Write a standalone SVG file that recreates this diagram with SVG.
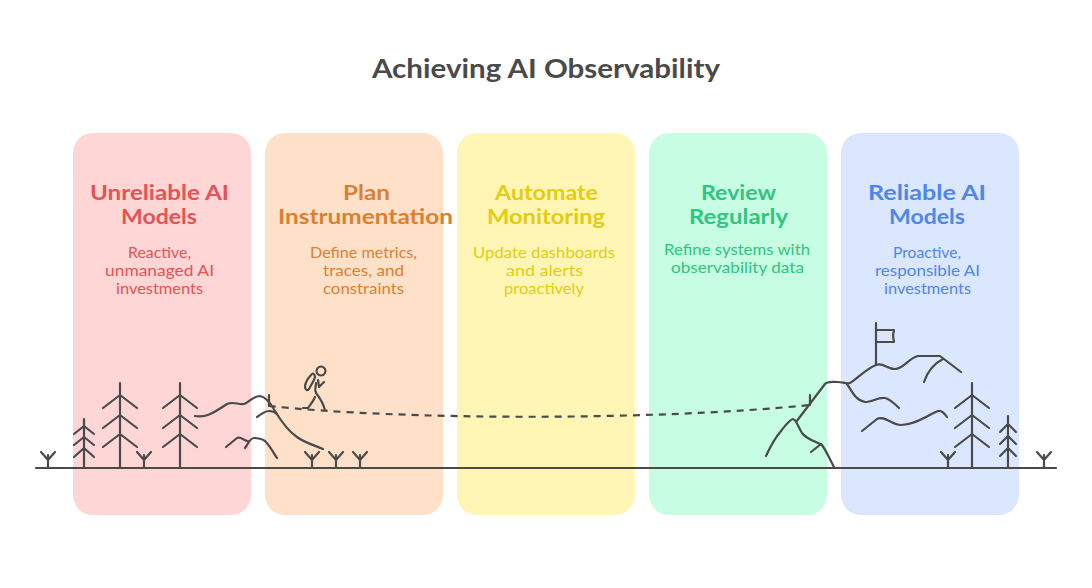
<svg xmlns="http://www.w3.org/2000/svg" width="1092" height="588" viewBox="0 0 1092 588">
<style>
text{font-family:"Lato","Noto Sans",sans-serif}
.t{font-size:27px;font-weight:700;fill:#4a4a4a}
.h{font-size:20px;font-weight:700}
.s{font-size:15px}
.k{fill:none;stroke:#4a4a4a;stroke-width:2.2;stroke-linecap:round;stroke-linejoin:round}
</style>
<defs>
<g id="big" class="k"><path d="M0 0V85M-17 25L0 12L17 25M-17 45L0 32L17 45M-17 64L0 51L17 64"/></g>
<g id="small" class="k"><path d="M0 0V49M-10 15L0 7L10 15M-10 26L0 18L10 26M-10 38L0 29L10 38"/></g>
<g id="small2" class="k"><path d="M0 0V52M-8 16L0 8L8 16M-8 28L0 20L8 28M-8 40L0 32L8 40"/></g>
<g id="grass" class="k"><path d="M0 0V-13M-7 -16L0 -8L7 -16"/></g>
</defs>
<rect width="1092" height="588" fill="#fff"/>
<text class="t" x="372" y="78" textLength="348" lengthAdjust="spacingAndGlyphs">Achieving AI Observability</text>
<g id="node-unreliable"><rect x="73" y="133" width="178" height="382" rx="20" fill="#ffd6d6"/>
<g class="h" fill="#e35454"><text x="90" y="200" textLength="139" lengthAdjust="spacingAndGlyphs">Unreliable AI</text><text x="121" y="224" textLength="76" lengthAdjust="spacingAndGlyphs">Models</text></g>
<g class="s" fill="#e35454"><text x="128" y="258" textLength="63" lengthAdjust="spacingAndGlyphs">Reactive,</text><text x="105" y="276" textLength="109" lengthAdjust="spacingAndGlyphs">unmanaged AI</text><text x="116" y="294" textLength="87" lengthAdjust="spacingAndGlyphs">investments</text></g></g>
<g id="node-plan"><rect x="265" y="133" width="178" height="382" rx="20" fill="#ffe1ca"/>
<g class="h" fill="#dd7f30"><text x="343" y="200" textLength="47" lengthAdjust="spacingAndGlyphs">Plan</text><text x="278" y="224" textLength="175" lengthAdjust="spacingAndGlyphs">Instrumentation</text></g>
<g class="s" fill="#dd7f30"><text x="310" y="258" textLength="107" lengthAdjust="spacingAndGlyphs">Define metrics,</text><text x="323" y="276" textLength="81" lengthAdjust="spacingAndGlyphs">traces, and</text><text x="323" y="294" textLength="81" lengthAdjust="spacingAndGlyphs">constraints</text></g></g>
<g id="node-automate"><rect x="457" y="133" width="178" height="382" rx="20" fill="#fff6b5"/>
<g class="h" fill="#e3cc12"><text x="495" y="200" textLength="103" lengthAdjust="spacingAndGlyphs">Automate</text><text x="487" y="224" textLength="118" lengthAdjust="spacingAndGlyphs">Monitoring</text></g>
<g class="s" fill="#e3cc12"><text x="473" y="258" textLength="142" lengthAdjust="spacingAndGlyphs">Update dashboards</text><text x="506" y="276" textLength="77" lengthAdjust="spacingAndGlyphs">and alerts</text><text x="504" y="294" textLength="80" lengthAdjust="spacingAndGlyphs">proactively</text></g></g>
<g id="node-review"><rect x="649" y="133" width="178" height="382" rx="20" fill="#c6fde3"/>
<g class="h" fill="#33c481"><text x="701" y="200" textLength="75" lengthAdjust="spacingAndGlyphs">Review</text><text x="689" y="224" textLength="99" lengthAdjust="spacingAndGlyphs">Regularly</text></g>
<g class="s" fill="#33c481"><text x="664" y="255" textLength="146" lengthAdjust="spacingAndGlyphs">Refine systems with</text><text x="671" y="273" textLength="133" lengthAdjust="spacingAndGlyphs">observability data</text></g></g>
<g id="node-reliable"><rect x="841" y="133" width="178" height="382" rx="20" fill="#dbe7fe"/>
<g class="h" fill="#4f86e8"><text x="868" y="200" textLength="118" lengthAdjust="spacingAndGlyphs">Reliable AI</text><text x="889" y="224" textLength="76" lengthAdjust="spacingAndGlyphs">Models</text></g>
<g class="s" fill="#4f86e8"><text x="893" y="258" textLength="68" lengthAdjust="spacingAndGlyphs">Proactive,</text><text x="875" y="276" textLength="105" lengthAdjust="spacingAndGlyphs">responsible AI</text><text x="884" y="294" textLength="87" lengthAdjust="spacingAndGlyphs">investments</text></g></g>
<g id="scene">
<path class="k" d="M36 468H1056"/>
<use href="#big" x="120" y="383"/><use href="#big" x="180" y="383"/><use href="#big" x="972" y="383"/>
<use href="#small" x="84" y="419"/><use href="#small2" x="1008" y="416"/>
<use href="#grass" x="48" y="468"/><use href="#grass" x="144" y="468"/><use href="#grass" x="312" y="468"/><use href="#grass" x="336" y="468"/><use href="#grass" x="360" y="468"/><use href="#grass" x="948" y="468"/><use href="#grass" x="1044" y="468"/>
<path class="k" d="M195 416C205 418 212 414 227 404C234 401 238 405 244 404C250 402 253 396 260 396C266 397 270 402 275 411C281 421 288 431 297 437C305 443 314 445 323 449"/>
<path class="k" d="M257 417C261 414 265 411 269 411C272 411 275 412 277 414"/>
<path class="k" d="M226 447L237 438C241 436 244 441 248 441M245 448C248 444 250 438 254 438C258 438 262 439 265 441C270 446 273 452 277 458"/>
<path class="k" d="M321 366.500A4.500 4.500 0 1 0 321.010 366.500M316 383C316 388 314 390 316 393C320 398 323 403 325 410M315 397C313 402 310 405 308 408L303 408M318 380L319 387L324 382M312 374C308 378 305 383 305 387C305 390 308 391 309 389C311 385 314 381 315 377C315 374 313 373 312 374Z"/>
<path class="k" d="M876 323V365M876 330H894L893 335.500L894 342H876"/>
<path class="k" d="M766 456C771 445 775 438 781 431C785 426 789 420 793 419C796 419 798 427 802 433C807 440 816 441 822 445C827 452 830 460 834 467"/>
<path class="k" d="M811 452L821 444"/>
<path class="k" d="M796 422L825 384C827 381 832 382 838 382C842 382 847 384 850 383C858 378 866 369 876 365C883 362 887 369 895 369C903 369 909 358 918 356H940L961 372"/>
<path class="k" d="M943 359C935 363 928 370 924 382"/>
<path class="k" d="M847 384C852 391 855 400 865 402C872 402 878 397 885 398C890 399 895 404 899 408"/>
<path class="k" d="M862 431L877 419C884 415 892 425 901 425C915 425 928 415 938 411C942 410 945 414 947 417"/>
</g>
<g id="connectors">
<path class="k" d="M269 395V406M810 395V405"/>
<path class="k" stroke-dasharray="7 6" style="stroke-linecap:butt" d="M269 406C400 420 650 421 810 405"/>
</g>
</svg>
